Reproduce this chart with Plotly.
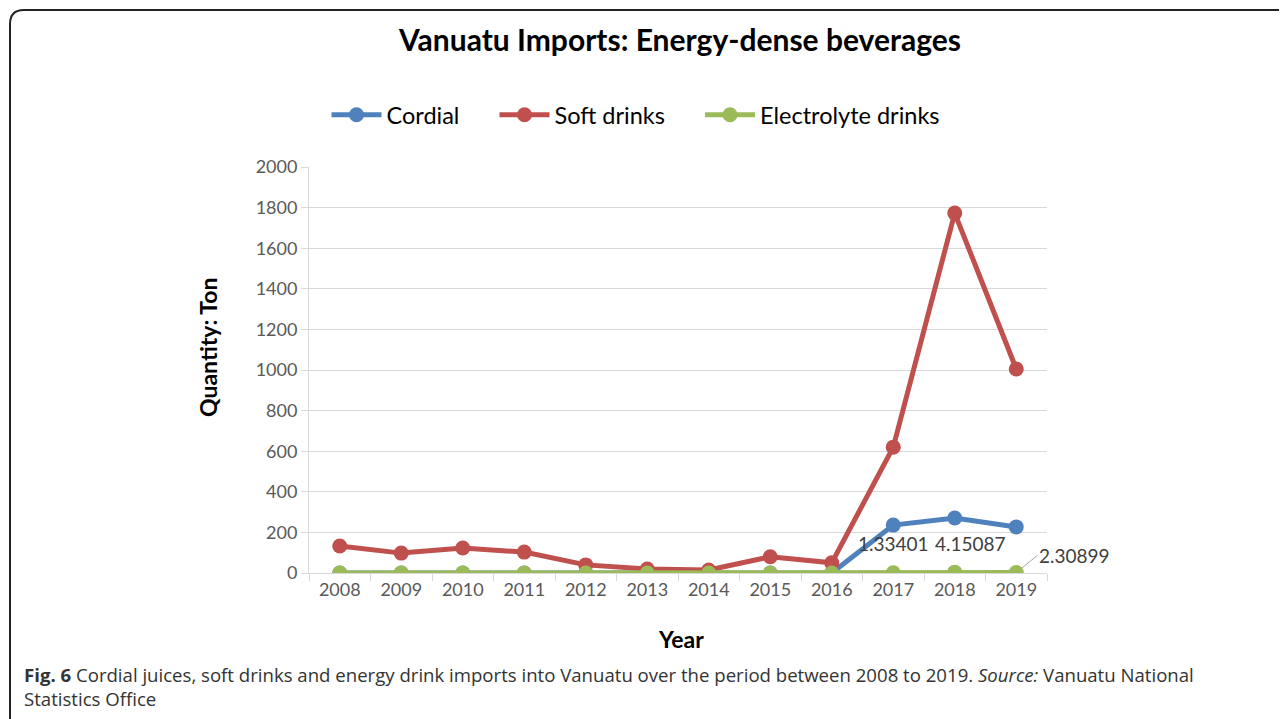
import plotly.graph_objects as go

years = ["2008", "2009", "2010", "2011", "2012", "2013", "2014", "2015", "2016", "2017", "2018", "2019"]
cordial = [0, 0, 0, 0, 0, 0, 0, 0, 0, 236, 271, 227]
soft_drinks = [133, 98, 123, 103, 40, 20, 15, 80, 50, 620, 1773, 1005]
electrolyte = [0, 0, 0, 0, 0, 0, 0, 0, 0, 1.33401, 4.15087, 2.30899]
label_idx = [9, 10, 11]
label_xshift = [0, 16]

OFF = 8  # page body margin
W, H = 1287 - OFF, 719 - OFF
# plot area in reference (screen) pixels
L, R, T, B = 309, 1047, 167, 573

def px(x):
    return (x - L) / (R - L)

def py(y):
    return (B - y) / (B - T)

FONT = "Lato"
NB = "\u00a0"
fig = go.Figure()
series = [("Cordial", cordial, "#4f81bd"),
          ("Soft drinks", soft_drinks, "#c0504d"),
          ("Electrolyte drinks", electrolyte, "#9bbb59")]
for k, (name, vals, col) in enumerate(series):
    fig.add_trace(go.Scatter(x=years, y=vals, name=name + (NB * 5 if k < 2 else ""),
                             mode="lines+markers",
                             line=dict(color=col, width=5),
                             marker=dict(color=col, size=15)))

annotations = []
for i, xs in zip(label_idx[:2], label_xshift):
    annotations.append(dict(x=i, y=electrolyte[i], xref="x", yref="y",
                            text=str(electrolyte[i]), showarrow=False,
                            xanchor="center", yanchor="middle",
                            xshift=xs, yshift=29,
                            font=dict(family=FONT, size=19, color="#404040")))
i = label_idx[2]
annotations.append(dict(x=i, y=electrolyte[i], xref="x", yref="y",
                        text=str(electrolyte[i]), showarrow=True,
                        ax=21, ay=-17, axref="pixel", ayref="pixel",
                        xanchor="left", yanchor="middle", arrowhead=0, arrowwidth=1,
                        arrowcolor="#a6a6a6", standoff=7,
                        font=dict(family=FONT, size=19, color="#404040")))
annotations.append(dict(x=px(208), y=py(348), xref="paper", yref="paper",
                        xanchor="center", yanchor="middle",
                        text="<b>Quantity: Ton</b>", textangle=-90, showarrow=False,
                        font=dict(family=FONT, size=23, color="#000000")))
annotations.append(dict(x=px(681), y=py(639), xref="paper", yref="paper",
                        xanchor="center", yanchor="middle",
                        text="<b>Year</b>", showarrow=False,
                        font=dict(family=FONT, size=23, color="#000000")))
annotations.append(dict(x=px(22), y=py(686), xref="paper", yref="paper",
                        xanchor="left", yanchor="middle", align="left",
                        text="<b>Fig. 6</b> Cordial juices, soft drinks and energy drink imports into Vanuatu over the period between 2008 to 2019. <i>Source:</i> Vanuatu National<br>Statistics Office",
                        showarrow=False,
                        font=dict(family="Open Sans", size=18.6, color="#333333")))

# rounded border
r = 14
x0, y0, x1, y1 = 10, 10, 1300, 740
path = (f"M {px(x0)},{py(y1)} L {px(x0)},{py(y0 + r)} "
        f"Q {px(x0)},{py(y0)} {px(x0 + r)},{py(y0)} L {px(x1)},{py(y0)}")
shapes = [dict(type="path", xref="paper", yref="paper", path=path,
               line=dict(color="#222222", width=2))]

fig.update_layout(
    width=W, height=H,
    margin=dict(l=L - OFF, r=(W + OFF) - R, t=T - OFF, b=(H + OFF) - B),
    paper_bgcolor="white", plot_bgcolor="white",
    title=dict(text="<b>Vanuatu Imports: Energy-dense beverages</b>",
               x=px(680), xref="paper", xanchor="center",
               y=1 - (40 - OFF) / H, yref="container", yanchor="middle",
               font=dict(family=FONT, size=30, color="#000000")),
    legend=dict(orientation="h", x=px(636), xanchor="center", y=py(115), yanchor="middle",
                font=dict(family=FONT, size=23.5, color="#000000"),
                itemwidth=50, traceorder="normal"),
    xaxis=dict(type="category", range=[-0.5, 11.5], showgrid=False,
               showline=True, linecolor="#d9d9d9", linewidth=1,
               ticks="outside", tickson="boundaries", ticklen=7, tickcolor="#d9d9d9",
               tickfont=dict(family=FONT, size=18, color="#595959")),
    yaxis=dict(range=[0, 2000], dtick=200, showgrid=True, gridcolor="#d9d9d9",
               showline=True, linecolor="#d9d9d9", zeroline=False,
               ticks="outside", ticklen=7, tickcolor="#d9d9d9",
               tickfont=dict(family=FONT, size=18, color="#595959")),
    annotations=annotations, shapes=shapes, showlegend=True,
)

fig.write_html("out.html")
